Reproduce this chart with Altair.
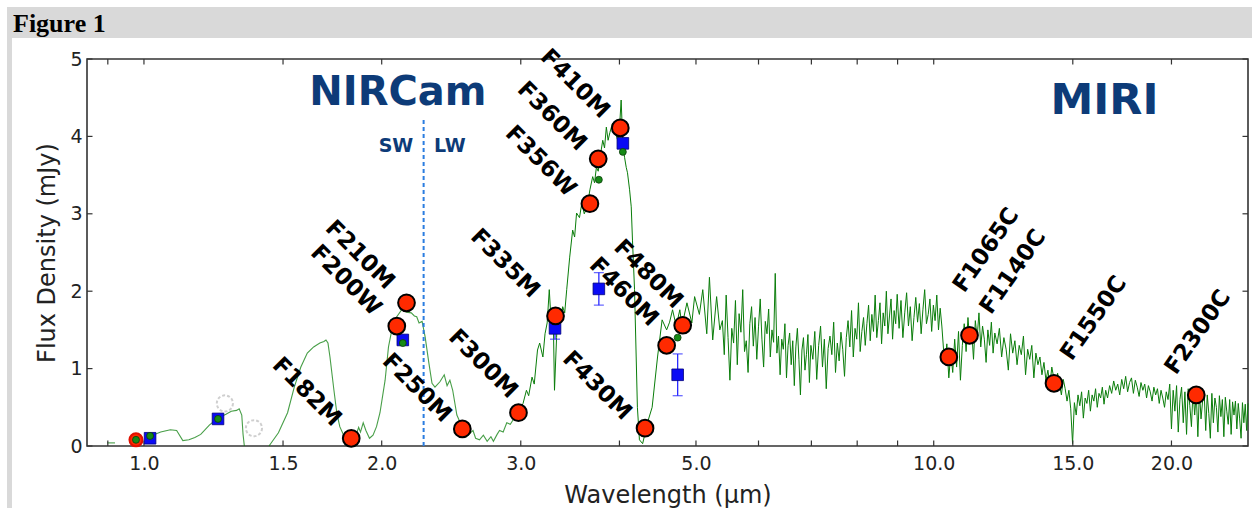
import altair as alt
import pandas as pd

# ---------------- values ----------------
# spectrum pieces: wavelength (micron) and flux density (mJy)
spec_a_wl = [0.898, 0.919]
spec_a_fx = [0.04, 0.04]

spec_b_wl = [1.02, 1.05, 1.08, 1.10, 1.12, 1.14, 1.16, 1.18, 1.21, 1.24, 1.27, 1.29, 1.31, 1.32, 1.33, 1.335, 1.34]
spec_b_fx = [0.13, 0.18, 0.21, 0.20, 0.07, 0.08, 0.11, 0.15, 0.27, 0.36, 0.41, 0.45, 0.46, 0.48, 0.40, 0.15, 0.0]

spec_c_wl = [1.44, 1.48, 1.52, 1.55, 1.58, 1.61, 1.64, 1.67, 1.69, 1.70,
             1.71, 1.72, 1.74, 1.755, 1.77, 1.79, 1.82, 1.85, 1.87, 1.88,
             1.895, 1.91, 1.93, 1.95, 1.97, 1.99, 2.02, 2.04, 2.06, 2.09,
             2.12, 2.15, 2.18, 2.20, 2.215, 2.23, 2.25, 2.27, 2.295, 2.316,
             2.336, 2.37, 2.40, 2.42, 2.44, 2.46, 2.49, 2.52, 2.54, 2.56,
             2.59, 2.61, 2.63, 2.66, 2.69, 2.72, 2.75, 2.77, 2.80, 2.82,
             2.85, 2.88, 2.91, 2.93, 2.96, 2.99]
spec_c_fx = [0.0, 0.17, 0.43, 0.76, 1.02, 1.20, 1.28, 1.33, 1.35, 1.37,
             1.33, 1.15, 0.72, 0.42, 0.25, 0.14, 0.13, 0.10, 0.24, 0.18,
             0.30, 0.20, 0.10, 0.14, 0.25, 0.43, 0.85, 1.28, 1.50, 1.67,
             1.76, 1.73, 1.72, 1.68, 1.67, 1.59, 1.61, 1.41, 1.07, 0.81,
             0.76, 0.83, 0.92, 0.78, 0.85, 0.72, 0.40, 0.28, 0.22, 0.12,
             0.17, 0.20, 0.10, 0.08, 0.14, 0.06, 0.12, 0.06, 0.15, 0.20,
             0.18, 0.30, 0.28, 0.33, 0.38, 0.46]

spec_d_wl = [2.99, 3.02, 3.05, 3.07, 3.10, 3.12, 3.15, 3.17, 3.20, 3.22, 3.24,
             3.26, 3.28, 3.30, 3.31, 3.33, 3.34, 3.37, 3.39, 3.41, 3.43,
             3.46, 3.49, 3.51, 3.53, 3.56, 3.585, 3.61, 3.64, 3.67, 3.70,
             3.72, 3.74, 3.76, 3.78, 3.81, 3.83, 3.85, 3.87, 3.89, 3.92,
             3.95, 3.98, 4.00, 4.02, 4.04, 4.06, 4.08, 4.095, 4.12, 4.14,
             4.155, 4.18, 4.20, 4.215, 4.24, 4.28, 4.34, 4.40, 4.47, 4.53,
             4.59, 4.63, 4.67, 4.72, 4.77, 4.80, 4.87, 4.94, 4.98, 5.05,
             5.10, 5.16, 5.20, 5.25, 5.31, 5.36]
spec_d_fx = [0.46, 0.55, 0.72, 0.65, 0.89, 0.80, 1.24, 1.33, 1.15, 1.45, 1.59,
             2.02, 1.55, 1.50, 0.72, 1.40, 1.67, 1.60, 1.80, 1.72, 2.02,
             2.44, 2.79, 2.70, 3.01, 2.95, 3.14, 3.00, 3.09, 3.31, 3.48,
             3.40, 3.60, 3.55, 3.73, 3.95, 3.85, 4.12, 3.95, 4.05, 4.17,
             4.05, 3.95, 4.10, 4.47, 3.90, 3.73, 3.60, 3.53, 3.31, 3.09,
             2.66, 2.02, 1.15, 0.50, 0.08, 0.03, 0.30, 0.50, 1.15, 1.63,
             1.50, 1.60, 1.76, 1.55, 1.76, 1.55, 1.85, 1.59, 1.93, 1.70,
             2.02, 1.45, 2.18, 1.37, 1.93, 1.50]

spec_e_wl = [5.40, 5.43, 5.46, 5.49, 5.52, 5.55, 5.58, 5.61, 5.64, 5.67,
             5.70, 5.73, 5.76, 5.79, 5.82, 5.85, 5.88, 5.91, 5.94, 5.97,
             6.00, 6.03, 6.06, 6.09, 6.12, 6.15, 6.18, 6.21, 6.24, 6.27,
             6.30, 6.33, 6.36, 6.39, 6.42, 6.45, 6.48, 6.51, 6.54, 6.57,
             6.60, 6.63, 6.66, 6.69, 6.72, 6.75, 6.78, 6.81, 6.84, 6.87,
             6.90, 6.93, 6.96, 6.99]
spec_e_fx = [1.62, 1.18, 1.95, 1.40, 0.85, 1.52, 1.33, 1.88, 1.05, 1.71,
             1.47, 2.02, 1.22, 1.36, 0.95, 1.58, 1.80, 1.29, 1.66, 1.12,
             1.54, 1.90, 1.38, 1.02, 1.61, 1.45, 1.77, 1.15, 1.50, 1.34,
             2.23, 1.20, 1.42, 0.92, 1.38, 1.25, 1.58, 0.88, 1.30, 1.46,
             1.05, 1.36, 0.78, 1.28, 1.52, 1.12, 0.66, 1.24, 1.40, 0.98,
             1.18, 1.44, 0.82, 1.30]

spec_f_wl = [7.03, 7.07, 7.11, 7.15, 7.19, 7.23, 7.27, 7.31, 7.35, 7.39,
             7.43, 7.47, 7.51, 7.55, 7.59, 7.63, 7.67, 7.71, 7.75, 7.79,
             7.83, 7.87, 7.91, 7.95, 7.99, 8.03, 8.07, 8.11, 8.15, 8.19,
             8.23, 8.27, 8.31, 8.35, 8.39, 8.43, 8.47, 8.51, 8.55, 8.59,
             8.63, 8.67, 8.71, 8.75, 8.79, 8.83, 8.87, 8.91, 8.95, 8.99]
spec_f_fx = [1.12, 1.48, 0.86, 1.30, 1.55, 1.02, 1.38, 0.74, 1.26, 1.42,
             1.18, 1.60, 0.95, 1.33, 1.10, 1.47, 1.25, 0.90, 1.40, 1.62,
             1.28, 1.75, 1.15, 1.52, 1.38, 1.85, 1.22, 1.48, 1.66, 1.30,
             1.58, 1.82, 1.36, 1.70, 1.48, 1.95, 1.40, 1.62, 1.85, 1.32,
             1.72, 1.55, 2.00, 1.45, 1.68, 1.90, 1.38, 1.75, 1.58, 1.96]

spec_g_wl = [9.04, 9.09, 9.14, 9.19, 9.24, 9.29, 9.34, 9.39, 9.44, 9.49,
             9.54, 9.59, 9.64, 9.69, 9.74, 9.79, 9.84, 9.89, 9.94, 9.99,
             10.04, 10.09, 10.14, 10.19, 10.24, 10.29]
spec_g_fx = [1.52, 1.88, 1.40, 1.72, 1.98, 1.55, 1.80, 1.36, 1.66, 1.92,
             1.60, 1.84, 1.45, 1.76, 2.02, 1.58, 1.70, 1.90, 1.48, 1.82,
             1.62, 1.95, 1.50, 1.78, 1.55, 1.25]

spec_h_wl = [10.33, 10.39, 10.45, 10.51, 10.57, 10.63, 10.69, 10.75, 10.81, 10.87,
             10.93, 10.99, 11.05, 11.11, 11.17, 11.23, 11.29, 11.35, 11.41, 11.47,
             11.53, 11.59, 11.65, 11.71, 11.77, 11.83, 11.89, 11.95,
             12.03, 12.11, 12.19, 12.27, 12.35, 12.43, 12.51, 12.59, 12.67, 12.75,
             12.83, 12.91, 12.99, 13.07, 13.15, 13.23, 13.31, 13.39, 13.47, 13.55, 13.63]
spec_h_fx = [1.05, 1.32, 0.88, 1.20, 0.95, 1.38, 1.02, 1.48, 0.85, 1.30,
             1.58, 1.22, 1.66, 1.35, 1.50, 1.12, 1.62, 1.40, 1.72, 1.28,
             1.55, 1.38, 1.08, 1.50, 1.30, 1.60, 1.20, 1.46,
             1.32, 1.52, 1.15, 1.40, 1.25, 0.98, 1.45, 1.20, 1.36, 1.05,
             1.30, 1.18, 1.42, 0.92, 1.25, 1.12, 1.30, 0.88, 1.20, 1.05, 1.15]

spec_i_wl = [13.71, 13.79, 13.87, 13.95, 14.03, 14.11, 14.19, 14.27, 14.35, 14.43,
             14.51, 14.59, 14.67, 14.75, 14.83, 14.91, 14.99, 15.07, 15.15, 15.23,
             15.31, 15.39, 15.47, 15.55, 15.63, 15.71, 15.79, 15.87, 15.95, 16.03,
             16.11, 16.19, 16.27, 16.35, 16.43, 16.51]
spec_i_fx = [0.92, 1.08, 0.85, 0.98, 0.78, 1.02, 0.88, 0.70, 0.94, 0.80,
             0.66, 0.86, 0.74, 0.58, 0.72, 0.48, 0.03, 0.56, 0.40, 0.66,
             0.52, 0.70, 0.36, 0.62, 0.55, 0.72, 0.45, 0.66, 0.58, 0.74,
             0.50, 0.68, 0.62, 0.76, 0.54, 0.72]

spec_j_wl = [16.6, 16.7, 16.8, 16.9, 17.0, 17.1, 17.2, 17.3, 17.4, 17.5,
             17.6, 17.7, 17.8, 17.9, 18.0, 18.1, 18.2, 18.3, 18.4, 18.5,
             18.6, 18.7, 18.8, 18.9, 19.0, 19.1, 19.2, 19.3, 19.4, 19.5,
             19.6, 19.7, 19.8]
spec_j_fx = [0.62, 0.78, 0.68, 0.84, 0.72, 0.80, 0.66, 0.86, 0.74, 0.90,
             0.70, 0.82, 0.88, 0.68, 0.85, 0.76, 0.64, 0.82, 0.72, 0.80,
             0.62, 0.78, 0.70, 0.58, 0.76, 0.66, 0.74, 0.55, 0.72, 0.62,
             0.50, 0.70, 0.60]

spec_k_wl = [19.9, 20.0, 20.1, 20.2, 20.3, 20.4, 20.5, 20.6, 20.7, 20.8,
             20.9, 21.0, 21.1, 21.2, 21.3, 21.4, 21.5, 21.6, 21.7, 21.8,
             21.9, 22.0, 22.1, 22.2, 22.3, 22.4, 22.5, 22.6, 22.7, 22.8,
             22.9, 23.0, 23.1, 23.2, 23.3, 23.4, 23.5, 23.6, 23.7, 23.8,
             23.9, 24.0, 24.1, 24.2, 24.3, 24.4, 24.5, 24.6, 24.7, 24.8,
             24.9, 25.0]
spec_k_fx = [0.80, 0.22, 0.72, 0.45, 0.78, 0.18, 0.60, 0.76, 0.30, 0.70,
             0.15, 0.74, 0.52, 0.25, 0.73, 0.40, 0.68, 0.12, 0.71, 0.35,
             0.58, 0.70, 0.20, 0.66, 0.42, 0.10, 0.68, 0.30, 0.62, 0.50,
             0.18, 0.65, 0.38, 0.60, 0.12, 0.63, 0.45, 0.28, 0.60, 0.15,
             0.57, 0.40, 0.58, 0.22, 0.55, 0.35, 0.10, 0.56, 0.30, 0.54,
             0.20, 0.55]

# photometry: filters (red circles)
filters = ["F182M", "F200W", "F210M", "F250M", "F300M", "F335M", "F356W", "F360M",
           "F410M", "F430M", "F460M", "F480M", "F1065C", "F1140C", "F1550C", "F2300C"]
filter_wl = [1.83, 2.09, 2.15, 2.53, 2.98, 3.32, 3.67, 3.76,
             4.01, 4.31, 4.59, 4.81, 10.45, 11.1, 14.2, 21.5]
filter_fx = [0.10, 1.55, 1.85, 0.22, 0.43, 1.68, 3.13, 3.71,
             4.11, 0.23, 1.30, 1.56, 1.15, 1.43, 0.81, 0.66]
# where each filter name sits (centre of the rotated label)
label_wl = [1.608, 1.802, 1.877, 2.216, 2.687, 2.865, 3.18, 3.285,
            3.513, 3.747, 4.05, 4.35, 11.65, 12.6, 15.94, 21.6]
label_fx = [0.70, 2.14, 2.47, 0.75, 1.06, 2.36, 3.68, 4.26,
            4.68, 0.78, 1.99, 2.22, 2.53, 2.25, 1.65, 1.47]

# small red ring at ~1 micron
ring_wl = [0.977]
ring_fx = [0.08]

# blue squares with error bars
sq_wl = [1.018, 1.241, 2.127, 3.315, 3.767, 4.04, 4.74]
sq_fx = [0.10, 0.35, 1.37, 1.52, 2.03, 3.91, 0.92]
sq_err = [0.0, 0.0, 0.0, 0.14, 0.21, 0.0, 0.27]

# small green dots
dot_wl = [0.977, 1.018, 1.241, 2.127, 3.767, 4.04, 4.74]
dot_fx = [0.08, 0.13, 0.35, 1.33, 3.44, 3.80, 1.40]

# faint dashed (ghost) circles
ghost_wl = [1.266, 1.378]
ghost_fx = [0.55, 0.23]

# instrument annotations
nircam_text, nircam_wl, nircam_fx = ["NIRCam"], [2.097], [4.41]
miri_text, miri_wl, miri_fx = ["MIRI"], [16.45], [4.29]
small_text = ["SW", "LW"]
small_wl = [2.085, 2.44]
small_fx = [3.80, 3.80]
split_wl = [2.26]
split_bottom = [0.0]
split_top = [4.24]

# axes
x_labels = [1.0, 1.5, 2.0, 3.0, 5.0, 10.0, 15.0, 20.0]
x_minor = [0.9, 4.0, 6.0, 7.0, 8.0, 9.0]
y_labels = [0, 1, 2, 3, 4, 5]
x_domain = [0.847, 25.0]
y_domain = [0, 5]

# ---------------- build tables ----------------
def piece(wl, fx, seg):
    assert len(wl) == len(fx), seg
    return pd.DataFrame({"wl": wl, "flux": fx, "seg": seg})

nir = pd.concat([piece(spec_a_wl, spec_a_fx, "a"),
                 piece(spec_b_wl, spec_b_fx, "b"),
                 piece(spec_c_wl, spec_c_fx, "c")], ignore_index=True)
rest = pd.concat([piece(spec_d_wl, spec_d_fx, "d"),
                  piece(spec_e_wl, spec_e_fx, "d"),
                  piece(spec_f_wl, spec_f_fx, "d"),
                  piece(spec_g_wl, spec_g_fx, "d"),
                  piece(spec_h_wl, spec_h_fx, "d"),
                  piece(spec_i_wl, spec_i_fx, "d"),
                  piece(spec_j_wl, spec_j_fx, "d"),
                  piece(spec_k_wl, spec_k_fx, "d")], ignore_index=True)
nir["i"] = range(len(nir))
rest["i"] = range(len(rest))

phot = pd.DataFrame({"name": filters, "wl": filter_wl, "flux": filter_fx,
                     "lwl": label_wl, "lfx": label_fx})
phot_nir = phot[phot["wl"] < 6]
phot_miri = phot[phot["wl"] >= 6]

sq = pd.DataFrame({"wl": sq_wl, "flux": sq_fx, "err": sq_err})
sq["lo"] = sq["flux"] - sq["err"]
sq["hi"] = sq["flux"] + sq["err"]
errs = sq[sq["err"] > 0]

dots = pd.DataFrame({"wl": dot_wl, "flux": dot_fx})
ring = pd.DataFrame({"wl": ring_wl, "flux": ring_fx})
ghosts = pd.DataFrame({"wl": ghost_wl, "flux": ghost_fx})
nircam = pd.DataFrame({"t": nircam_text, "wl": nircam_wl, "flux": nircam_fx})
miri = pd.DataFrame({"t": miri_text, "wl": miri_wl, "flux": miri_fx})
small = pd.DataFrame({"t": small_text, "wl": small_wl, "flux": small_fx})
split = pd.DataFrame({"wl": split_wl, "bottom": split_bottom, "top": split_top})
xt = pd.DataFrame({"wl": x_labels + x_minor})
yt = pd.DataFrame({"flux": y_labels})
one = pd.DataFrame({"a": [0]})

# ---------------- styling ----------------
W, H = 1161, 387
AX = "#222222"
FRAME = "#333333"
GREEN = "#0a7d0a"
BLUE_TXT = "#0d3b78"
FONT = "DejaVu Sans"
TICK = 5.5

xscale = alt.Scale(type="log", domain=x_domain, nice=False, zero=False)
yscale = alt.Scale(domain=y_domain, nice=False, zero=False)

x_axis = alt.Axis(
    values=x_labels, format=".1f", title="Wavelength (μm)", ticks=False,
    domain=False, grid=False, labelFontSize=19, labelPadding=8,
    labelFlush=False, labelOverlap=False, titleFontSize=24, titlePadding=10)
y_axis = alt.Axis(
    values=y_labels, format="d", title="Flux Density (mJy)", ticks=False,
    domain=False, grid=False, labelFontSize=19, labelPadding=5,
    titleFontSize=24, titlePadding=10)

def X(f):
    return alt.X(f, type="quantitative", scale=xscale, axis=x_axis)

def Y(f):
    return alt.Y(f, type="quantitative", scale=yscale, axis=y_axis)

# header band and left strip (page decoration)
header = alt.Chart(one).mark_rect(color="#d9d9d9").encode(
    x=alt.value(-80), x2=alt.value(W + 4), y=alt.value(-52), y2=alt.value(-21))
strip = alt.Chart(one).mark_rect(color="#d9d9d9").encode(
    x=alt.value(-80), x2=alt.value(-75), y=alt.value(-21), y2=alt.value(H + 62))
fig_title = alt.Chart(one).mark_text(
    text="Figure 1", font="Liberation Serif", fontSize=26, fontWeight="bold",
    align="left", baseline="alphabetic", color="#000000").encode(
    x=alt.value(-74), y=alt.value(-27))

# spectrum
spec_nir = alt.Chart(nir).mark_line(color=GREEN, strokeWidth=1.1, opacity=0.75).encode(
    x=X("wl"), y=Y("flux"), detail="seg:N", order="i:Q")
spec_rest = alt.Chart(rest).mark_line(color=GREEN, strokeWidth=1.0).encode(
    x=X("wl"), y=Y("flux"), order="i:Q")

# inward tick marks on all four sides
tick_style = dict(color=FRAME, strokeWidth=1.2)
ticks_bottom = alt.Chart(xt).mark_rule(**tick_style).encode(
    x=X("wl"), y=alt.value(H), y2=alt.value(H - TICK))
ticks_top = alt.Chart(xt).mark_rule(**tick_style).encode(
    x=X("wl"), y=alt.value(0), y2=alt.value(TICK))
ticks_left = alt.Chart(yt).mark_rule(**tick_style).encode(
    y=Y("flux"), x=alt.value(0), x2=alt.value(TICK))
ticks_right = alt.Chart(yt).mark_rule(**tick_style).encode(
    y=Y("flux"), x=alt.value(W), x2=alt.value(W - TICK))

ghost_layer = alt.Chart(ghosts).mark_point(
    shape="circle", filled=False, size=260, stroke="#cfcfcf", strokeWidth=2,
    strokeDash=[3, 2], opacity=1).encode(x=X("wl"), y=Y("flux"))

split_layer = alt.Chart(split).mark_rule(
    color="#2b7de0", strokeWidth=2, strokeDash=[4, 3]).encode(
    x=X("wl"), y=Y("bottom"), y2="top:Q")

err_layer = alt.Chart(errs).mark_rule(color="#2a2aff", strokeWidth=1.3).encode(
    x=X("wl"), y=Y("lo"), y2="hi:Q")
cap_lo = alt.Chart(errs).mark_tick(color="#2a2aff", orient="horizontal", size=10,
                                   thickness=1.3).encode(x=X("wl"), y=Y("lo"))
cap_hi = alt.Chart(errs).mark_tick(color="#2a2aff", orient="horizontal", size=10,
                                   thickness=1.3).encode(x=X("wl"), y=Y("hi"))

ring_layer = alt.Chart(ring).mark_point(
    shape="circle", filled=True, size=170, fill="#ff2a00", stroke="#e01000",
    strokeWidth=2, opacity=1).encode(x=X("wl"), y=Y("flux"))

sq_layer = alt.Chart(sq).mark_point(
    shape="square", filled=True, size=135, fill="#0a0af5", stroke="#00007a",
    strokeWidth=0.8, opacity=1).encode(x=X("wl"), y=Y("flux"))

dot_layer = alt.Chart(dots).mark_point(
    shape="circle", filled=True, size=48, fill="#168a16", stroke="#0b3d0b",
    strokeWidth=0.8, opacity=1).encode(x=X("wl"), y=Y("flux"))

red_layer = alt.Chart(phot).mark_point(
    shape="circle", filled=True, size=280, fill="#ff2a00", stroke="#000000",
    strokeWidth=2, opacity=1).encode(x=X("wl"), y=Y("flux"))

lab_nir = alt.Chart(phot_nir).mark_text(
    font=FONT, fontSize=23, fontWeight="bold", angle=45, align="center",
    baseline="middle", color="#000000").encode(
    x=X("lwl"), y=Y("lfx"), text="name:N")
lab_miri = alt.Chart(phot_miri).mark_text(
    font=FONT, fontSize=23, fontWeight="bold", angle=305, align="center",
    baseline="middle", color="#000000").encode(
    x=X("lwl"), y=Y("lfx"), text="name:N")

nircam_layer = alt.Chart(nircam).mark_text(
    font=FONT, fontSize=40, fontWeight="bold", align="center",
    baseline="alphabetic", color=BLUE_TXT).encode(x=X("wl"), y=Y("flux"), text="t:N")
miri_layer = alt.Chart(miri).mark_text(
    font=FONT, fontSize=43, fontWeight="bold", align="center",
    baseline="alphabetic", color=BLUE_TXT).encode(x=X("wl"), y=Y("flux"), text="t:N")
small_layer = alt.Chart(small).mark_text(
    font=FONT, fontSize=19, fontWeight="bold", align="center",
    baseline="alphabetic", color=BLUE_TXT).encode(x=X("wl"), y=Y("flux"), text="t:N")

chart = alt.layer(
    spec_nir, header, strip, fig_title, spec_rest,
    ticks_bottom, ticks_top, ticks_left, ticks_right,
    ghost_layer, split_layer, err_layer, cap_lo, cap_hi,
    ring_layer, sq_layer, dot_layer, red_layer,
    lab_nir, lab_miri, nircam_layer, miri_layer, small_layer,
).properties(
    width=W, height=H,
    autosize=alt.AutoSizeParams(type="none"),
    padding={"left": 87, "top": 59, "right": 4, "bottom": 62},
    background="#ffffff",
).configure_view(
    stroke=FRAME, strokeWidth=1.6
).configure_axis(
    labelColor=AX, titleColor=AX, labelFont=FONT, titleFont=FONT,
    titleFontWeight="normal"
)

chart.save("out.html", embed_options={"renderer": "svg", "actions": False})
